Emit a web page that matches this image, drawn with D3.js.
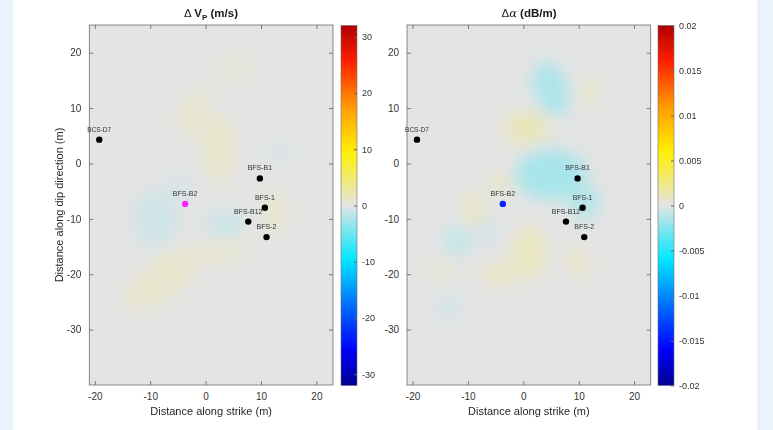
<!DOCTYPE html>
<html>
<head>
<meta charset="utf-8">
<script src="https://cdn.jsdelivr.net/npm/d3@7"></script>
<style>
  body { margin: 0; background: #fff; }
  svg { display: block; font-family: "Liberation Sans", Arial, sans-serif; }
</style>
</head>
<body>
<div id="chart"></div>
<script>
//
// data
//
var xTicks = [-20, -10, 0, 10, 20]
var yTicks = [20, 10, 0, -10, -20, -30]
var vpTicks = [30, 20, 10, 0, -10, -20, -30]
var attTicks = [0.02, 0.015, 0.01, 0.005, 0, -0.005, -0.01, -0.015, -0.02]
var attTickLabels = ['0.02', '0.015', '0.01', '0.005', '0', '-0.005', '-0.01', '-0.015', '-0.02']

var wells = ['BCS-D7', 'BFS-B1', 'BFS-B2', 'BFS-1', 'BFS-B12', 'BFS-2']
var wellX = [-19.2, 9.8, -3.7, 10.7, 7.7, 11.0]
var wellY = [4.3, -2.7, -7.3, -8.0, -10.5, -13.3]

// anomalies: [x, y, rx, ry, angle, value]
var vpBlobs = [
  [-2, 9, 3, 4.5, 10, 0.8],
  [2.5, 2.5, 3, 6, 0, 1.1],
  [5.5, 17, 3, 3, 0, 0.5],
  [12.5, -9, 2, 4, 0, 0.9],
  [-8, -21, 8, 3.5, -35, 1.0],
  [3, -15.5, 5, 2.5, -20, 0.7],
  [-9, -10, 4, 5, 0, -0.9],
  [3.5, -11, 3.5, 2.5, 0, -1.1],
  [13, 2, 3, 1.5, 0, -0.5],
  [-5, -4.5, 3, 2, 0, -0.6]
]
var attBlobs = [
  [5, 13.5, 3, 5, -20, -0.0015],
  [12, 13, 1.5, 2, 0, 0.0009],
  [0.5, 6.5, 4, 3, 0, 0.0011],
  [5, -2, 6.5, 4.5, 0, -0.0016],
  [11, -7, 3, 3, 0, -0.0012],
  [-4, -3.5, 2, 2, 0, 0.0007],
  [-9, -8, 2.5, 3, 0, 0.0007],
  [-12, -14, 2.5, 2.5, 0, -0.0009],
  [-6.5, -12.5, 1.5, 2, 0, -0.0007],
  [1, -16, 3, 4.5, 0, 0.0010],
  [-4, -20, 4, 2, 0, 0.0008],
  [10, -18, 2, 2.5, 0, 0.0008],
  [-15, -19, 2, 2, 0, 0.0005],
  [-13.5, -26, 2, 2, 0, -0.0006]
]

var W = 773, H = 430
var svg = d3.select('#chart').append('svg').attr('width', W).attr('height', H)

svg.append('rect').attr('x', 0).attr('y', 0).attr('width', 13).attr('height', H).attr('fill', '#eaf2fc')
svg.append('rect').attr('x', 757).attr('y', 0).attr('width', W - 757).attr('height', H).attr('fill', '#eaf2fc')

// gray-centred jet
var cmapStops = [-1, -0.8, -0.55, -0.3, 0, 0.3, 0.55, 0.8, 1]
var cmapColors = ['#00008f', '#0000ff', '#0070ff', '#00e8ff', '#e4e4e4', '#fff000', '#ff9a00', '#ff2000', '#b00000']
var cmap = d3.scaleLinear().domain(cmapStops).range(cmapColors).clamp(true)

var defs = svg.append('defs')
defs.append('filter').attr('id', 'soft')
  .attr('x', '-50%').attr('y', '-50%').attr('width', '200%').attr('height', '200%')
  .append('feGaussianBlur').attr('stdDeviation', 8)

var grad = defs.append('linearGradient').attr('id', 'cbar')
  .attr('x1', 0).attr('y1', 1).attr('x2', 0).attr('y2', 0)
d3.range(0, 1.0001, 0.02).forEach(function(t) {
  grad.append('stop').attr('offset', t).attr('stop-color', cmap(t * 2 - 1))
})

var plain = function(d) { return String(d) }

function panel(opt) {
  var x = d3.scaleLinear().domain([-21, 23]).range([opt.left, opt.left + 243.7])
  var y = d3.scaleLinear().domain([-40, 25]).range([385, 25])
  var lim = opt.lim
  var g = svg.append('g')

  defs.append('clipPath').attr('id', opt.id + 'clip')
    .append('rect').attr('x', x(-21)).attr('y', y(25)).attr('width', x(23) - x(-21)).attr('height', y(-40) - y(25))

  g.append('rect').attr('x', x(-21)).attr('y', y(25)).attr('width', x(23) - x(-21)).attr('height', y(-40) - y(25))
    .attr('fill', cmap(0))

  var field = g.append('g').attr('clip-path', 'url(#' + opt.id + 'clip)')
    .append('g').attr('filter', 'url(#soft)')
  field.selectAll('ellipse').data(opt.blobs).enter().append('ellipse')
    .attr('transform', function(d) { return 'translate(' + x(d[0]) + ',' + y(d[1]) + ') rotate(' + d[4] + ')' })
    .attr('rx', function(d) { return x(d[2]) - x(0) })
    .attr('ry', function(d) { return y(0) - y(d[3]) })
    .attr('fill', function(d) { return cmap(d[5] / lim) })

  // axes, ticks inside on all four sides
  var ax = g.append('g').attr('class', 'axes')
  ax.append('g').attr('transform', 'translate(0,385)')
    .call(d3.axisBottom(x).tickValues(xTicks).tickFormat(plain).tickSizeInner(-4).tickSizeOuter(0).tickPadding(8))
  ax.append('g').attr('transform', 'translate(0,25)')
    .call(d3.axisTop(x).tickValues(xTicks).tickSizeInner(-4).tickSizeOuter(0).tickFormat(''))
  ax.append('g').attr('transform', 'translate(' + x(-21) + ',0)')
    .call(d3.axisLeft(y).tickValues(yTicks).tickFormat(plain).tickSizeInner(-4).tickSizeOuter(0).tickPadding(8))
  ax.append('g').attr('transform', 'translate(' + x(23) + ',0)')
    .call(d3.axisRight(y).tickValues(yTicks).tickSizeInner(-4).tickSizeOuter(0).tickFormat(''))
  ax.selectAll('.domain').remove()
  ax.selectAll('line').attr('stroke', '#7a7a7a')
  ax.selectAll('text').attr('font-size', 10).attr('fill', '#333').attr('font-family', 'Liberation Sans, Arial, sans-serif')
  g.append('rect').attr('x', x(-21)).attr('y', y(25)).attr('width', x(23) - x(-21)).attr('height', y(-40) - y(25))
    .attr('fill', 'none').attr('stroke', '#6e6e6e').attr('stroke-width', 0.8)

  // boreholes
  var idx = d3.range(wells.length)
  g.selectAll('.dot').data(idx).enter().append('circle')
    .attr('cx', function(i) { return x(wellX[i]) })
    .attr('cy', function(i) { return y(wellY[i]) })
    .attr('r', 3.2)
    .attr('fill', function(i) { return wells[i] == 'BFS-B2' ? opt.b2 : '#000' })
  g.selectAll('.lab').data(idx).enter().append('text')
    .attr('x', function(i) { return x(wellX[i]) })
    .attr('y', function(i) { return y(wellY[i]) - 8 })
    .attr('text-anchor', 'middle')
    .attr('font-size', function(i) { return i == 0 ? 6.5 : 7 })
    .attr('fill', '#333')
    .text(function(i) { return wells[i] })

  // axis titles
  g.append('text').attr('x', (x(-21) + x(23)) / 2).attr('y', 415).attr('text-anchor', 'middle')
    .attr('font-size', 11).attr('fill', '#262626').text('Distance along strike (m)')
  if (opt.ylabel) {
    g.append('text').attr('transform', 'translate(63,205) rotate(-90)').attr('text-anchor', 'middle')
      .attr('font-size', 11).attr('fill', '#262626').text('Distance along dip direction (m)')
  }

  // colorbar
  var cy = d3.scaleLinear().domain([-lim, lim]).range([385.5, 25.5])
  var cb = svg.append('g')
  cb.append('rect').attr('x', opt.cbx).attr('y', 25.5).attr('width', 16).attr('height', 360)
    .attr('fill', 'url(#cbar)').attr('stroke', '#6e6e6e').attr('stroke-width', 0.6)
  var cax = cb.append('g').attr('transform', 'translate(' + (opt.cbx + 16) + ',0)')
    .call(d3.axisRight(cy).tickValues(opt.ticks).tickSizeInner(-3).tickSizeOuter(0).tickPadding(5)
      .tickFormat(function(d, i) { return opt.tickLabels[i] }))
  cax.select('.domain').remove()
  cax.selectAll('line').attr('stroke', '#666')
  cax.selectAll('text').attr('font-size', 9).attr('fill', '#333').attr('font-family', 'Liberation Sans, Arial, sans-serif')

  return g
}

panel({id: 'vp', left: 89.3, lim: 32, blobs: vpBlobs, b2: '#ff22ff', cbx: 341, ylabel: true,
  ticks: vpTicks, tickLabels: vpTicks.map(String)})
panel({id: 'att', left: 407, lim: 0.02, blobs: attBlobs, b2: '#0a1eff', cbx: 658, ylabel: false,
  ticks: attTicks, tickLabels: attTickLabels})

// titles
var t1 = svg.append('text').attr('x', 211).attr('y', 17).attr('text-anchor', 'middle')
  .attr('font-size', 11.5).attr('font-weight', 'bold').attr('fill', '#1a1a1a')
t1.append('tspan').attr('font-weight', 'normal').text('\u0394 ')
t1.append('tspan').text('V')
t1.append('tspan').attr('font-size', 8).attr('dy', 3).text('P')
t1.append('tspan').attr('dy', -3).text(' (m/s)')

var t2 = svg.append('text').attr('x', 529).attr('y', 17).attr('text-anchor', 'middle')
  .attr('font-size', 11.5).attr('fill', '#1a1a1a')
t2.append('tspan').text('\u0394')
t2.append('tspan').attr('font-style', 'italic').attr('font-family', 'DejaVu Serif, serif').text('\u03b1')
t2.append('tspan').attr('font-weight', 'bold').text(' (dB/m)')
</script>
</body>
</html>
